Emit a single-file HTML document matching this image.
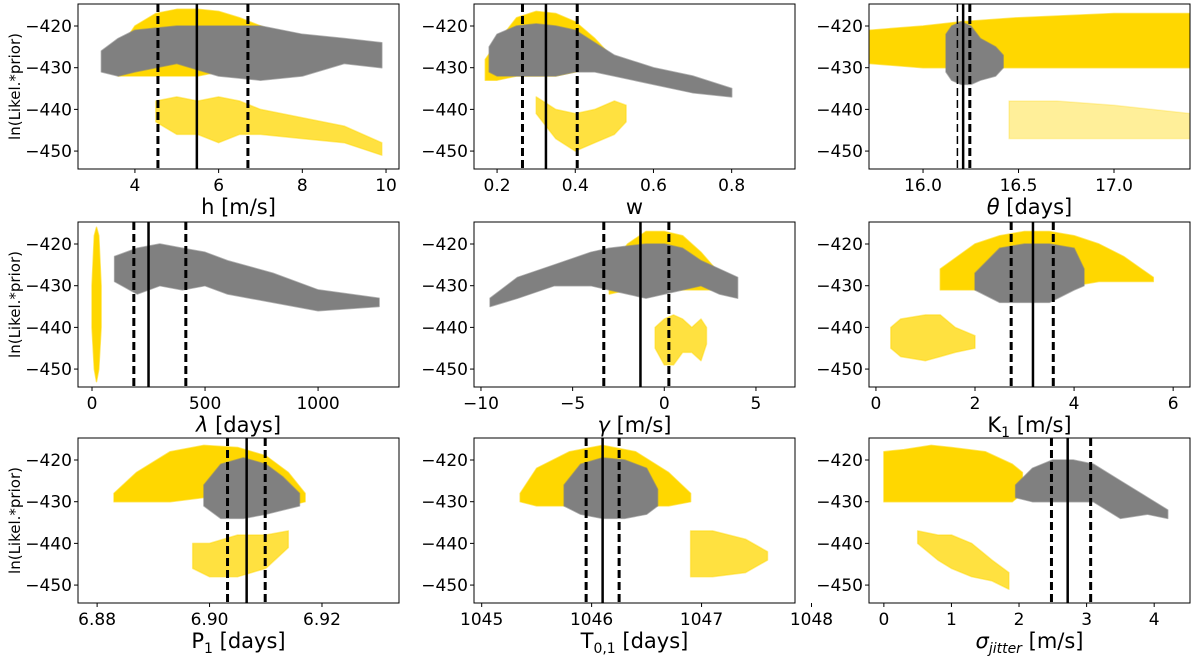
<!DOCTYPE html>
<html><head><meta charset="utf-8">
<style>
html,body{margin:0;padding:0;background:#fff;}
svg{display:block;font-family:"DejaVu Sans","Liberation Sans",sans-serif;}
</style></head>
<body>
<svg id="chart" width="1200" height="657" viewBox="0 0 1200 657" xmlns="http://www.w3.org/2000/svg"></svg>
<script>
// ---- shared y axis ----
const yTicks = [-420, -430, -440, -450];
const yDomain = [-454.3, -414.72];

// ---- panel 1: h ----
const hDomain = [2.64, 10.31];
const hTicks = [4, 6, 8, 10];
const hLines = [4.55, 5.48, 6.7];
const hYelX = [3.6,4,4.5,5,5.5,6,6.5,7,7.5,8];
const hYelTop = [-426,-420,-417,-416,-416,-416.5,-418,-420,-422,-425];
const hYelBot = [-432,-432,-432,-432,-432,-431,-430,-429,-428,-427];
const hGrayX = [3.2,3.6,4,5,6,7,8,9,9.9];
const hGrayTop = [-426,-423,-421,-420,-420,-420,-422,-423,-424];
const hGrayBot = [-431,-432,-431,-429,-432,-433,-432,-429,-430];
const hLowX = [4.5,5,5.5,6,6.5,7,8,9,9.9];
const hLowTop = [-438,-437,-438,-437,-438,-440,-442,-444,-448];
const hLowBot = [-443,-446,-446,-448,-446,-446,-447,-448,-451];

// ---- panel 2: w ----
const wDomain = [0.141, 0.962];
const wTicks = [0.2, 0.4, 0.6, 0.8];
const wLines = [0.265, 0.325, 0.405];
const wYelX = [0.17,0.2,0.25,0.3,0.35,0.4,0.45,0.5];
const wYelTop = [-428,-424,-418,-416.5,-417,-419,-423,-428];
const wYelBot = [-433,-433,-432,-432,-432,-431,-430,-429];
const wGrayX = [0.18,0.2,0.25,0.3,0.35,0.4,0.45,0.5,0.6,0.7,0.8];
const wGrayTop = [-425,-422,-420,-419.5,-420,-421,-424,-427,-430,-432,-435];
const wGrayBot = [-431,-432,-432,-432,-432,-431,-431,-432,-434,-436,-437];
const wLowX = [0.3,0.35,0.4,0.45,0.5,0.53];
const wLowTop = [-437,-440,-441,-440,-438,-439];
const wLowBot = [-441,-447,-450,-448,-446,-443];

// ---- panel 3: theta ----
const tDomain = [15.717, 17.398];
const tTicks = [16.0, 16.5, 17.0];
const tLines = [16.18, 16.21, 16.245];
const tYelX = [15.72,16,16.2,16.5,17,17.4];
const tYelTop = [-421,-420,-419,-418,-417,-417];
const tYelBot = [-429,-430,-430,-430,-430,-430];
const tGrayX = [16.12,16.15,16.2,16.25,16.3,16.38,16.42];
const tGrayTop = [-422,-420,-419,-420,-423,-425,-427];
const tGrayBot = [-431,-433,-434,-434,-433,-432,-430];
const tLowX = [16.45,16.7,17,17.4];
const tLowTop = [-438,-438,-439,-441];
const tLowBot = [-447,-447,-447,-447];

// ---- panel 4: lambda ----
const lDomain = [-62, 1358];
const lTicks = [0, 500, 1000];
const lLines = [185, 250, 415];
const lYelX = [0,10,20,30,40];
const lYelTop = [-430,-418,-416,-418,-430];
const lYelBot = [-440,-450,-453,-450,-440];
const lGrayX = [100,200,300,400,500,600,800,1000,1270];
const lGrayTop = [-423,-421,-420,-421,-422,-424,-427,-431,-433];
const lGrayBot = [-429,-432,-430,-431,-430,-432,-434,-436,-435];
const lLowX = [];
const lLowTop = [];
const lLowBot = [];

// ---- panel 5: gamma ----
const gDomain = [-10.38, 7.13];
const gTicks = [-10, -5, 0, 5];
const gLines = [-3.3, -1.3, 0.25];
const gYelX = [-3,-2,-1,0,1,2,3];
const gYelTop = [-426,-420,-417,-417,-418,-422,-427];
const gYelBot = [-432,-431,-431,-431,-431,-431,-431];
const gGrayX = [-9.5,-8,-6,-4,-3,-2,-1,0,1,2,3,4];
const gGrayTop = [-433,-428,-425,-422,-421,-420.5,-420,-420,-421,-424,-426,-428];
const gGrayBot = [-435,-433,-430,-430,-431,-432,-433,-432,-431,-430,-432,-433];
const gLowX = [-0.5,0,0.5,1,1.5,2,2.3];
const gLowTop = [-440,-438,-437,-438,-440,-438,-440];
const gLowBot = [-445,-449,-449,-446,-446,-448,-444];

// ---- panel 6: K1 ----
const kDomain = [-0.14, 6.34];
const kTicks = [0, 2, 4, 6];
const kLines = [2.73, 3.17, 3.58];
const kYelX = [1.3,2,2.5,3,3.5,4,4.5,5,5.6];
const kYelTop = [-426,-420,-418,-417,-417,-418,-420,-423,-428];
const kYelBot = [-431,-431,-431,-431,-431,-430,-429,-429,-429];
const kGrayX = [2,2.5,3,3.5,4,4.2];
const kGrayTop = [-427,-421,-420,-420,-421,-426];
const kGrayBot = [-431,-434,-434,-434,-431,-430];
const kLowX = [0.3,0.5,1,1.3,1.6,2];
const kLowTop = [-440,-438,-437,-437,-440,-442];
const kLowBot = [-445,-447,-448,-447,-446,-445];

// ---- panel 7: P1 ----
const pDomain = [6.8766, 6.9337];
const pTicks = [6.88, 6.90, 6.92];
const pLines = [6.9032, 6.9066, 6.9099];
const pYelX = [6.883,6.887,6.893,6.899,6.905,6.91,6.914,6.917];
const pYelTop = [-428,-423,-418,-416.5,-417,-419,-423,-428];
const pYelBot = [-430,-430,-430,-429,-430,-431,-431,-430];
const pGrayX = [6.899,6.902,6.906,6.91,6.913,6.916];
const pGrayTop = [-426,-421,-419.5,-421,-424,-428];
const pGrayBot = [-431,-434,-434,-433,-432,-431];
const pLowX = [6.897,6.9,6.905,6.91,6.914];
const pLowTop = [-440,-440,-438,-438,-437];
const pLowBot = [-446,-448,-448,-446,-441];

// ---- panel 8: T0,1 ----
const oDomain = [1044.93, 1047.85];
const oTicks = [1045, 1046, 1047, 1048];
const oLines = [1045.95, 1046.1, 1046.25];
const oYelX = [1045.35,1045.5,1045.8,1046.1,1046.4,1046.7,1046.9];
const oYelTop = [-428,-422,-418,-416.5,-418,-423,-428];
const oYelBot = [-430,-431,-431,-431,-431,-431,-430];
const oGrayX = [1045.75,1045.9,1046.1,1046.3,1046.5,1046.6];
const oGrayTop = [-426,-421,-419.5,-420,-422,-427];
const oGrayBot = [-431,-433,-434,-434,-433,-431];
const oLowX = [1046.9,1047.1,1047.4,1047.6];
const oLowTop = [-437,-437,-439,-442];
const oLowBot = [-448,-448,-447,-444];

// ---- panel 9: sigma jitter ----
const sDomain = [-0.22, 4.53];
const sTicks = [0, 1, 2, 3, 4];
const sLines = [2.48, 2.72, 3.06];
const sYelX = [0,0.3,0.7,1,1.5,1.9,2.05];
const sYelTop = [-418,-417.5,-416.5,-417,-418,-421,-423];
const sYelBot = [-430,-430,-430,-430,-430,-430,-428];
const sGrayX = [1.95,2.2,2.5,2.8,3.1,3.5,3.9,4.2];
const sGrayTop = [-426,-422,-420,-420,-421,-425,-429,-432];
const sGrayBot = [-429,-430,-430,-430,-430,-434,-433,-434];
const sLowX = [0.5,0.8,1,1.3,1.6,1.85];
const sLowTop = [-437,-438,-438,-440,-444,-447];
const sLowBot = [-440,-444,-446,-448,-449,-451];

const NS = "http://www.w3.org/2000/svg";
const svg = document.getElementById("chart");
const colLeft = [78, 474, 869], rowTop = [4, 222, 438], PW = 321, PH = 165;

const panels = [
 {name:"h", dom:hDomain, ticks:hTicks, fmt:v=>String(v), lines:hLines, yel:[hYelX,hYelTop,hYelBot], gray:[hGrayX,hGrayTop,hGrayBot], low:[hLowX,hLowTop,hLowBot], lowOp:0.75, label:'h [m/s]'},
 {name:"w", dom:wDomain, ticks:wTicks, fmt:v=>v.toFixed(1), lines:wLines, yel:[wYelX,wYelTop,wYelBot], gray:[wGrayX,wGrayTop,wGrayBot], low:[wLowX,wLowTop,wLowBot], lowOp:0.75, label:'w'},
 {name:"theta", dom:tDomain, ticks:tTicks, fmt:v=>v.toFixed(1), lines:tLines, yel:[tYelX,tYelTop,tYelBot], gray:[tGrayX,tGrayTop,tGrayBot], low:[tLowX,tLowTop,tLowBot], lowOp:0.4, label:'<tspan font-style="italic">θ</tspan> [days]', thin:true},
 {name:"lambda", dom:lDomain, ticks:lTicks, fmt:v=>String(v), lines:lLines, yel:[lYelX,lYelTop,lYelBot], gray:[lGrayX,lGrayTop,lGrayBot], low:[lLowX,lLowTop,lLowBot], lowOp:0.75, label:'<tspan font-style="italic">λ</tspan> [days]'},
 {name:"gamma", dom:gDomain, ticks:gTicks, fmt:v=>String(v).replace("-","−"), lines:gLines, yel:[gYelX,gYelTop,gYelBot], gray:[gGrayX,gGrayTop,gGrayBot], low:[gLowX,gLowTop,gLowBot], lowOp:0.75, label:'<tspan font-style="italic">γ</tspan> [m/s]'},
 {name:"k1", dom:kDomain, ticks:kTicks, fmt:v=>String(v), lines:kLines, yel:[kYelX,kYelTop,kYelBot], gray:[kGrayX,kGrayTop,kGrayBot], low:[kLowX,kLowTop,kLowBot], lowOp:0.75, label:'K<tspan font-size="14" dy="5">1</tspan><tspan dy="-5"> [m/s]</tspan>'},
 {name:"p1", dom:pDomain, ticks:pTicks, fmt:v=>v.toFixed(2), lines:pLines, yel:[pYelX,pYelTop,pYelBot], gray:[pGrayX,pGrayTop,pGrayBot], low:[pLowX,pLowTop,pLowBot], lowOp:0.75, label:'P<tspan font-size="14" dy="5">1</tspan><tspan dy="-5"> [days]</tspan>'},
 {name:"t01", dom:oDomain, ticks:oTicks, fmt:v=>String(v), lines:oLines, yel:[oYelX,oYelTop,oYelBot], gray:[oGrayX,oGrayTop,oGrayBot], low:[oLowX,oLowTop,oLowBot], lowOp:0.75, label:'T<tspan font-size="14" dy="5">0,1</tspan><tspan dy="-5"> [days]</tspan>'},
 {name:"sigma-jitter", dom:sDomain, ticks:sTicks, fmt:v=>String(v), lines:sLines, yel:[sYelX,sYelTop,sYelBot], gray:[sGrayX,sGrayTop,sGrayBot], low:[sLowX,sLowTop,sLowBot], lowOp:0.75, label:'<tspan font-style="italic">σ</tspan><tspan font-style="italic" font-size="14" dy="5">jitter</tspan><tspan dy="-5"> [m/s]</tspan>'}
];

function mk(tag, attrs){ const e=document.createElementNS(NS,tag); for(const k in attrs) e.setAttribute(k,attrs[k]); return e; }

panels.forEach((p,i)=>{
  const L = colLeft[i%3], T = rowTop[Math.floor(i/3)];
  const xs = v => L + (v - p.dom[0])/(p.dom[1]-p.dom[0])*PW;
  const ys = v => T + PH - (v - yDomain[0])/(yDomain[1]-yDomain[0])*PH;
  const g = mk("g",{});
  
  
  svg.appendChild(g);
  const clipId = "clip"+i;
  const cp = mk("clipPath",{id:clipId}); cp.appendChild(mk("rect",{x:L,y:T,width:PW,height:PH})); g.appendChild(cp);
  const plot = mk("g",{"clip-path":"url(#"+clipId+")"}); g.appendChild(plot);
  function blob(arr, color, nm, op){
    const [X,Tp,Bt] = arr; if(!X.length) return;
    let pts = X.map((x,j)=>xs(x).toFixed(1)+","+ys(Tp[j]).toFixed(1));
    for(let j=X.length-1;j>=0;j--) pts.push(xs(X[j]).toFixed(1)+","+ys(Bt[j]).toFixed(1));
    const poly = mk("polygon",{points:pts.join(" "), fill:color, "fill-opacity":op, stroke:color, "stroke-width":1.5, "stroke-opacity":op*0.6, "stroke-linejoin":"round"});
    
    
    plot.appendChild(poly);
  }
  blob(p.yel, "#FFD700", "yellow-samples-main", 1);
  blob(p.gray, "#808080", "gray-samples-main", 1);
  blob(p.low, "#FFD700", "yellow-samples-low", p.lowOp);
  p.lines.forEach((v,j)=>{
    const ln = mk("line",{x1:xs(v),x2:xs(v),y1:T,y2:T+PH,stroke:"#000","stroke-width": (p.thin && j===0)?1.5:(j===1?2.5:3)});
    if(j!==1) ln.setAttribute("stroke-dasharray","8,4");
    
    
    plot.appendChild(ln);
  });
  const frame = mk("rect",{x:L,y:T,width:PW,height:PH,fill:"none",stroke:"#000","stroke-width":1});
  
  
  g.appendChild(frame);
  p.ticks.forEach(v=>{
    const x = xs(v);
    g.appendChild(mk("line",{x1:x,x2:x,y1:T+PH,y2:T+PH+4,stroke:"#000","stroke-width":1}));
    const t = mk("text",{x:x,y:T+PH+22,"text-anchor":"middle","font-size":17,fill:"#000"});
    t.textContent = p.fmt(v);
    
    
    g.appendChild(t);
  });
  yTicks.forEach(v=>{
    const y = ys(v);
    g.appendChild(mk("line",{x1:L-4,x2:L,y1:y,y2:y,stroke:"#000","stroke-width":1}));
    const t = mk("text",{x:L-6,y:y+6,"text-anchor":"end","font-size":17,fill:"#000"});
    t.textContent = "−"+Math.abs(v);
    
    
    g.appendChild(t);
  });
  const xl = mk("text",{x:L+PW/2,y:T+PH+45,"text-anchor":"middle","font-size":21,fill:"#000"});
  xl.innerHTML = p.label;
  
  
  g.appendChild(xl);
  if(i%3===0){
    const cy = T+PH/2;
    const yl = mk("text",{x:20,y:cy,"text-anchor":"middle","font-size":15,fill:"#000",transform:"rotate(-90 20 "+cy+")"});
    yl.textContent = "ln(Likel.*prior)";
    
    
    g.appendChild(yl);
  }
});
</script>
</body></html>
